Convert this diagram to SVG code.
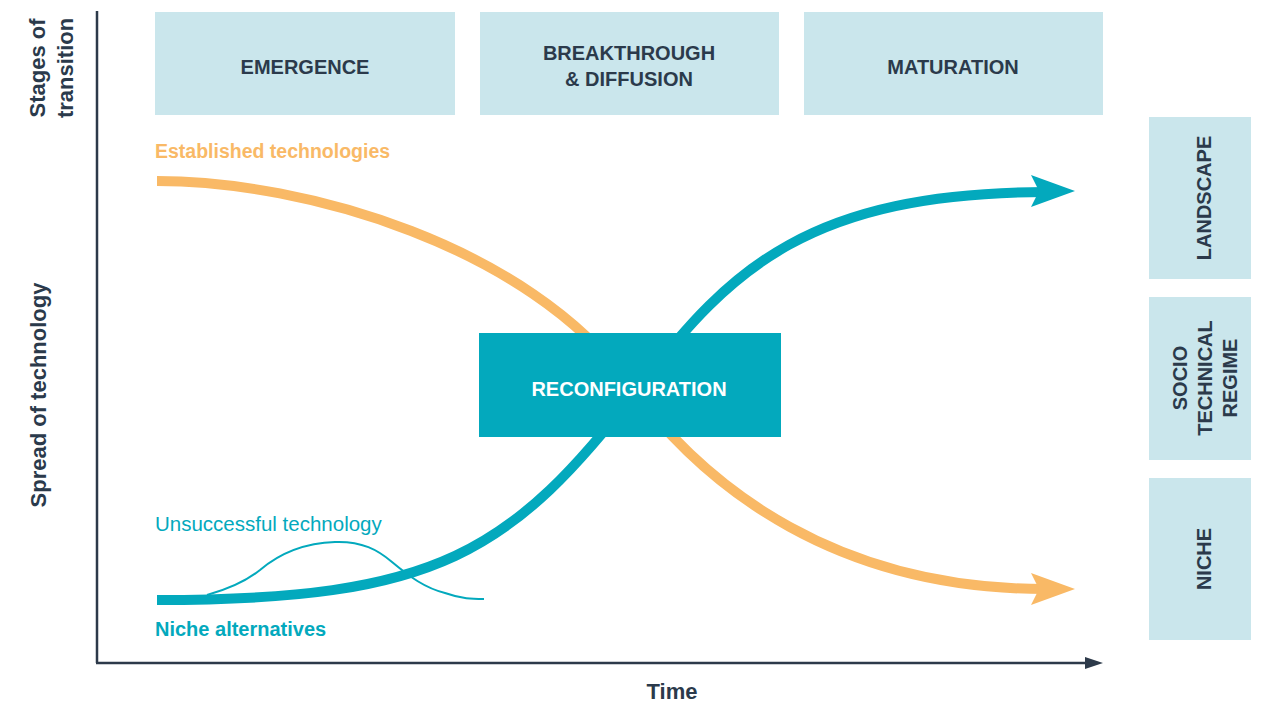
<svg xmlns="http://www.w3.org/2000/svg" width="1262" height="704" viewBox="0 0 1262 704">
  <style>
    .lbl { font-family: "Liberation Sans", Arial, sans-serif; }
    .dark { fill: #2b3a4b; font-weight: bold; }
    .stage { fill: #cae6ec; }
    .cap { font-size: 20px; text-anchor: middle; }
    .axis-title { font-size: 22px; text-anchor: middle; }
    .thick { fill: none; stroke-width: 10; stroke-linecap: butt; }
  </style>

  <rect width="1262" height="704" fill="#ffffff"/>

  <!-- axes -->
  <g id="axes">
    <line x1="97" y1="11" x2="97" y2="663" stroke="#2d3a4a" stroke-width="2.5"/>
    <line x1="96" y1="663" x2="1088" y2="663" stroke="#2d3a4a" stroke-width="2.5"/>
    <path d="M1103,663 L1085,657 L1085,669 Z" fill="#2d3a4a"/>
    <text class="lbl dark axis-title" transform="translate(45,68) rotate(-90)">Stages of</text>
    <text class="lbl dark axis-title" transform="translate(73,68) rotate(-90)">transition</text>
    <text class="lbl dark axis-title" transform="translate(46,395) rotate(-90)">Spread of technology</text>
    <text class="lbl dark axis-title" x="672" y="699">Time</text>
  </g>

  <!-- stages of transition -->
  <g id="stage-emergence">
    <rect class="stage" x="155" y="12" width="300" height="103"/>
    <text class="lbl dark cap" x="305" y="74">EMERGENCE</text>
  </g>
  <g id="stage-breakthrough">
    <rect class="stage" x="480" y="12" width="299" height="103"/>
    <text class="lbl dark cap" x="629" y="60">BREAKTHROUGH</text>
    <text class="lbl dark cap" x="629" y="86">&amp; DIFFUSION</text>
  </g>
  <g id="stage-maturation">
    <rect class="stage" x="804" y="12" width="299" height="103"/>
    <text class="lbl dark cap" x="953" y="74">MATURATION</text>
  </g>

  <!-- levels -->
  <g id="level-landscape">
    <rect class="stage" x="1149" y="117" width="102" height="162"/>
    <text class="lbl dark cap" transform="translate(1211,198) rotate(-90)">LANDSCAPE</text>
  </g>
  <g id="level-regime">
    <rect class="stage" x="1149" y="297" width="102" height="163"/>
    <text class="lbl dark cap" transform="translate(1187,378) rotate(-90)">SOCIO</text>
    <text class="lbl dark cap" transform="translate(1212,378) rotate(-90)">TECHNICAL</text>
    <text class="lbl dark cap" transform="translate(1237,378) rotate(-90)">REGIME</text>
  </g>
  <g id="level-niche">
    <rect class="stage" x="1149" y="478" width="102" height="162"/>
    <text class="lbl dark cap" transform="translate(1211,559) rotate(-90)">NICHE</text>
  </g>

  <!-- curves -->
  <g id="connectors">
    <path id="established" class="thick" stroke="#f9b966" d="M157,181 C307,181 528,247 628,383 C708,492 840,589 1045,589"/>
    <path d="M1075,589 L1031,573 L1039,589 L1031,605 Z" fill="#f9b966"/>
    <path id="unsuccessful" fill="none" stroke="#03a9bd" stroke-width="2" d="M207,595 C225,590 245,582 260,570 C280,553 305,543 335,542 C362,541 378,550 392,562 C410,577 425,588 445,593 C462,599 472,599 484,599"/>
    <path id="niche-alt" class="thick" stroke="#03a9bd" d="M157,600 C437,600 511,554 641,385 C731,268 810,193 1045,192"/>
    <path d="M1075,191 L1031,175 L1039,191 L1031,207 Z" fill="#03a9bd"/>
  </g>

  <!-- curve labels -->
  <g id="labels">
    <text class="lbl" x="155" y="158" font-size="19.5" font-weight="bold" fill="#f9b966">Established technologies</text>
    <text class="lbl" x="155" y="531" font-size="20.5" fill="#03a9bd">Unsuccessful technology</text>
    <text class="lbl" x="155" y="636" font-size="20" font-weight="bold" fill="#03a9bd">Niche alternatives</text>
  </g>

  <!-- reconfiguration -->
  <g id="reconfiguration">
    <rect x="479" y="333" width="302" height="104" fill="#03a9bd"/>
    <text class="lbl cap" x="629" y="396" font-weight="bold" fill="#ffffff">RECONFIGURATION</text>
  </g>
</svg>
